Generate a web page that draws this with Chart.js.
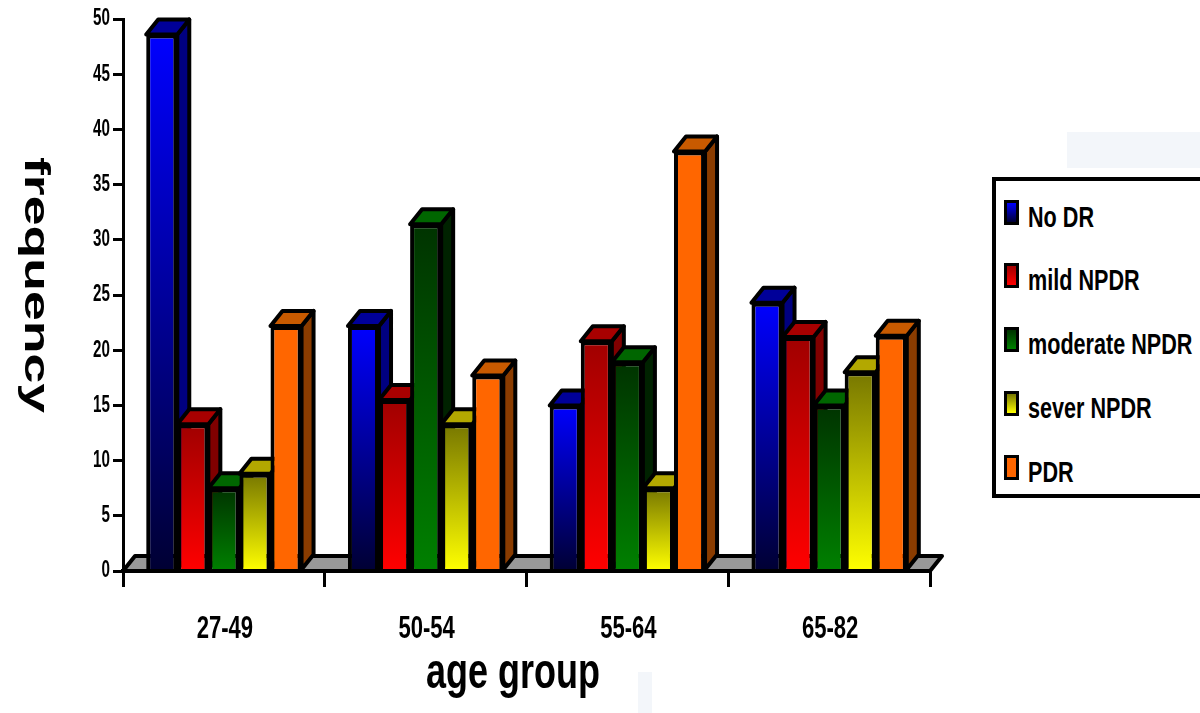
<!DOCTYPE html>
<html>
<head>
<meta charset="utf-8">
<title>frequency by age group</title>
<script src="https://cdn.jsdelivr.net/npm/chart.js@4"></script>
<style>
  html, body { margin: 0; background: #fff; }
  #wrap { position: relative; width: 1200px; height: 713px; overflow: hidden; }
  #grafico { position: absolute; left: 0; top: 0; }
  .patch { position: absolute; background: #f3f6fa; }
  #leyenda { position: absolute; left: 992px; top: 177px; width: 230px; height: 321px; box-sizing: border-box;
    border: 4px solid #000; background: #fff; font: bold 30px "Liberation Sans", sans-serif; }
  #leyenda div { position: absolute; left: 8px; white-space: nowrap; line-height: 30px; height: 30px; }
  #leyenda i { position: absolute; left: 0; top: 0; width: 9px; height: 19px; border: 3px solid #000; }
  #leyenda span { position: absolute; left: 24px; top: 2px; transform: scaleX(0.72); transform-origin: left center; }
</style>
</head>
<body>
<div id="wrap">
  <div class="patch" style="left:1067px;top:132px;width:133px;height:36px"></div>
  <div class="patch" style="left:638px;top:672px;width:14px;height:41px"></div>
  <canvas id="grafico" width="1200" height="713"></canvas>
  <div id="leyenda"></div>
</div>
<script>
const categories = ['27-49', '50-54', '55-64', '65-82'];
const seriesNames = ['No DR', 'mild NPDR', 'moderate NPDR', 'sever NPDR', 'PDR'];
const noDR = [48.6, 22.2, 15, 24.3];
const mildNPDR = [13.3, 15.5, 20.8, 21.2];
const moderateNPDR = [7.5, 31.4, 18.9, 15];
const severNPDR = [8.8, 13.3, 7.5, 18];
const PDR = [22.2, 17.7, 38, 21.3];
const seriesValues = [noDR, mildNPDR, moderateNPDR, severNPDR, PDR];

// colour at the top of the bar, colour at the base, then side and lid of the 3d box
const gradTop = ['#0000ff', '#a00000', '#003300', '#777700', '#ff6600'];
const gradBase = ['#000033', '#ff0000', '#008000', '#ffff00', '#ff6600'];
const sideColor = ['#000080', '#800000', '#002200', '#666600', '#8a3c00'];
const lidColor = ['#000099', '#a80000', '#006600', '#b3a800', '#c85a00'];

const depthX = 12, depthY = 15;
const fontName = '"Liberation Sans", sans-serif';

function barGradient(c) {
  const chart = c.chart;
  if (c.type !== 'data' || !chart.chartArea) return gradBase[c.datasetIndex];
  const y = chart.scales.y;
  const g = chart.ctx.createLinearGradient(0, y.getPixelForValue(c.raw), 0, y.getPixelForValue(0));
  g.addColorStop(0, gradTop[c.datasetIndex]);
  g.addColorStop(1, gradBase[c.datasetIndex]);
  return g;
}

function poly(ctx, pts, fill) {
  ctx.beginPath();
  pts.forEach((p, i) => i ? ctx.lineTo(p[0], p[1]) : ctx.moveTo(p[0], p[1]));
  ctx.closePath();
  ctx.fillStyle = fill;
  ctx.fill();
  ctx.stroke();
}

// the picture's text is squeezed or stretched, canvas font settings can't do that alone
function stretched(ctx, text, x, y, sx, size, align, baseline, angle) {
  ctx.save();
  ctx.translate(x, y);
  if (angle) ctx.rotate(angle);
  ctx.scale(sx, 1);
  ctx.font = 'bold ' + size + 'px ' + fontName;
  ctx.fillStyle = '#000';
  ctx.textAlign = align;
  ctx.textBaseline = baseline;
  ctx.fillText(text, 0, 0);
  ctx.restore();
}

// floor, sides and lids go under the bars, left to right so they overlap properly
const caja3d = {
  id: 'caja3d',
  beforeDatasetsDraw(chart) {
    const ctx = chart.ctx, a = chart.chartArea;
    ctx.save();
    ctx.strokeStyle = '#000';
    ctx.lineWidth = 4;
    ctx.lineJoin = 'round';
    poly(ctx, [[a.left, a.bottom], [a.left + depthX, a.bottom - depthY], [a.right + depthX, a.bottom - depthY], [a.right, a.bottom]], '#999999');
    categories.forEach((_, i) => {
      seriesValues.forEach((_, d) => {
        const b = chart.getDatasetMeta(d).data[i];
        const l = b.x - b.width / 2, r = b.x + b.width / 2;
        poly(ctx, [[r, b.y], [r + depthX, b.y - depthY], [r + depthX, b.base - depthY], [r, b.base]], sideColor[d]);
        poly(ctx, [[l, b.y], [l + depthX, b.y - depthY], [r + depthX, b.y - depthY], [r, b.y]], lidColor[d]);
      });
    });
    ctx.restore();
  },
  afterDraw(chart) {
    const ctx = chart.ctx, xs = chart.scales.x, ys = chart.scales.y;
    xs.ticks.forEach((t, i) => stretched(ctx, t.label, xs.getPixelForTick(i) + 1, 638, 0.69, 32, 'center', 'alphabetic'));
    ys.ticks.forEach((t, i) => stretched(ctx, t.label, 110, ys.getPixelForTick(i), 0.66, 23, 'right', 'middle'));
    stretched(ctx, 'age group', 513, 688, 0.72, 50, 'center', 'alphabetic');
    stretched(ctx, 'frequency', 25, 285, 1.53, 35, 'center', 'alphabetic', Math.PI / 2);
  }
};

new Chart(document.getElementById('grafico'), {
  type: 'bar',
  plugins: [caja3d],
  data: {
    labels: categories,
    datasets: seriesNames.map((name, d) => ({
      label: name,
      data: seriesValues[d],
      backgroundColor: barGradient,
      borderColor: '#000',
      borderWidth: 4,
      borderSkipped: 'bottom',
      categoryPercentage: 0.77,
      barPercentage: 1
    }))
  },
  options: {
    responsive: false,
    animation: false,
    layout: { padding: { top: 19, right: 270, left: 0, bottom: 0 } },
    plugins: { legend: { display: false }, tooltip: { enabled: false } },
    scales: {
      x: {
        afterFit(s) { s.height = 142; },
        grid: { offset: true, drawOnChartArea: false, color: '#000', lineWidth: 3, tickLength: 16 },
        border: { color: '#000', width: 4, z: 1 },
        ticks: { display: false }
      },
      y: {
        min: 0,
        max: 50,
        afterFit(s) { s.width = 123; },
        grid: { drawOnChartArea: false, color: '#000', lineWidth: 3, tickLength: 10 },
        border: { color: '#000', width: 3 },
        ticks: { display: false, stepSize: 5 }
      }
    }
  }
});

// legend box
const leyenda = document.getElementById('leyenda');
const filaY = [19, 82, 146, 210, 274];
seriesNames.forEach((name, d) => {
  const fila = document.createElement('div');
  fila.style.top = filaY[d] + 'px';
  const muestra = document.createElement('i');
  muestra.style.background = 'linear-gradient(' + gradTop[d] + ',' + gradBase[d] + ')';
  const texto = document.createElement('span');
  texto.textContent = name;
  fila.append(muestra, texto);
  leyenda.append(fila);
});
</script>
</body>
</html>
